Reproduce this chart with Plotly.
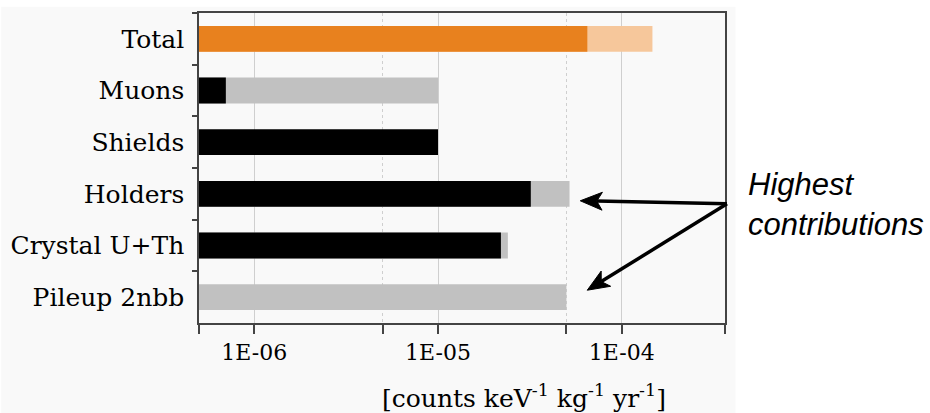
import math
import plotly.graph_objects as go

# ---- data ----
categories = ["Total", "Muons", "Shields", "Holders", "Crystal U+Th", "Pileup 2nbb"]
main_values = [6.5e-5, 7.0e-7, 1.0e-5, 3.2e-5, 2.2e-5, None]
upper_values = [1.47e-4, 1.0e-5, None, 5.2e-5, 2.4e-5, 5.0e-5]
main_colors = ["#E8811E", "#000000", "#000000", "#000000", "#000000", "#000000"]
upper_colors = ["#F6C79B", "#C1C1C1", "#C1C1C1", "#C1C1C1", "#C1C1C1", "#C1C1C1"]
major_ticks = [1e-6, 1e-5, 1e-4]
major_labels = ["1E-06", "1E-05", "1E-04"]
minor_ticks = [5e-7, 5e-6, 5e-5, 3.65e-4]
x_range = [5e-7, 3.65e-4]
goal_value = 1e-4

BG = "#F9F9F9"
SERIF = "DejaVu Serif"

# plot-area geometry (pixels)
L, R, T, B = 198, 205, 11, 90
W_PLOT = 930 - L - R
H_PLOT = 413 - T - B


def px2paper(px, py):
    return (px - L) / W_PLOT, (413 - B - py) / H_PLOT


fig = go.Figure()
fig.add_trace(go.Bar(
    y=categories, x=upper_values, orientation="h",
    marker=dict(color=upper_colors, line=dict(width=0)),
    width=0.5, showlegend=False, hoverinfo="x+y",
))
fig.add_trace(go.Bar(
    y=categories, x=main_values, orientation="h",
    marker=dict(color=main_colors, line=dict(width=0)),
    width=0.5, showlegend=False, hoverinfo="x+y",
))

# thick reference line at 1E-04
fig.add_shape(type="line", xref="x", yref="paper", x0=goal_value, x1=goal_value,
              y0=0, y1=1, line=dict(color="#ABABAB", width=3), layer="below")

# light background panel for the chart part
fig.add_shape(type="rect", xref="paper", yref="paper",
              x0=-0.376, x1=1.02, y0=-0.29, y1=1.02,
              fillcolor=BG, line=dict(width=0), layer="below")


def add_arrow(tail, tip, head_len=22, head_w=18):
    tx, ty = tail
    hx, hy = tip
    dx, dy = hx - tx, hy - ty
    n = math.hypot(dx, dy)
    ux, uy = dx / n, dy / n
    nx, ny = -uy, ux
    base = (hx - head_len * ux, hy - head_len * uy)
    notch = (hx - 0.75 * head_len * ux, hy - 0.75 * head_len * uy)
    p1 = (base[0] + head_w / 2 * nx, base[1] + head_w / 2 * ny)
    p2 = (base[0] - head_w / 2 * nx, base[1] - head_w / 2 * ny)
    a = px2paper(*tail)
    b = px2paper(*notch)
    fig.add_shape(type="line", xref="paper", yref="paper",
                  x0=a[0], y0=a[1], x1=b[0], y1=b[1],
                  line=dict(color="black", width=3.5), layer="above")
    pts = [px2paper(*p) for p in (tip, p1, notch, p2)]
    path = "M{} {} L{} {} L{} {} L{} {} Z".format(*[c for p in pts for c in p])
    fig.add_shape(type="path", xref="paper", yref="paper", path=path,
                  fillcolor="black", line=dict(color="black", width=1), layer="above")


add_arrow((727, 203), (580, 200))
add_arrow((727, 203), (587, 290))

fig.update_layout(
    width=930, height=413,
    margin=dict(l=L, r=R, t=T, b=B),
    paper_bgcolor="white", plot_bgcolor=BG,
    barmode="overlay",
    showlegend=False,
    font=dict(family=SERIF, color="black"),
    xaxis=dict(
        type="log", range=[math.log10(x_range[0]), math.log10(x_range[1])],
        tickmode="array", tickvals=major_ticks, ticktext=major_labels,
        ticks="outside", ticklen=9, tickwidth=1.5, tickcolor="#444",
        tickfont=dict(family=SERIF, size=22, color="black"),
        showgrid=True, gridcolor="#CFCFCF", gridwidth=1,
        showline=True, linecolor="#444", linewidth=1.5, mirror=True,
        zeroline=False,
        minor=dict(tickmode="array", tickvals=minor_ticks, ticks="outside",
                   ticklen=9, tickwidth=1.5, tickcolor="#444",
                   showgrid=True, gridcolor="#CFCFCF", griddash="dot", gridwidth=1),
    ),
    yaxis=dict(
        type="category", categoryorder="array", categoryarray=categories,
        autorange="reversed", tickson="boundaries",
        ticks="outside", ticklen=5, tickwidth=1.5, tickcolor="#444",
        tickfont=dict(family=SERIF, size=25, color="black"),
        showgrid=False, showline=True, linecolor="#444", linewidth=1.5,
        mirror=True, zeroline=False, ticklabelstandoff=8,
    ),
)

# x-axis title
fig.add_annotation(xref="paper", yref="paper", x=0.617, y=-0.236,
                   text="[counts keV<sup>-1</sup> kg<sup>-1</sup> yr<sup>-1</sup>]",
                   showarrow=False, xanchor="center", yanchor="middle",
                   font=dict(family=SERIF, size=25, color="black"))

fig.add_annotation(xref="paper", yref="paper", x=(746 - L) / W_PLOT, y=(323 - 204) / H_PLOT,
                   text="<i>Highest<br>contributions</i>", showarrow=False,
                   xanchor="left", yanchor="middle", align="left",
                   font=dict(family="Liberation Sans", size=31, color="black"))

fig.write_html("out.html")
